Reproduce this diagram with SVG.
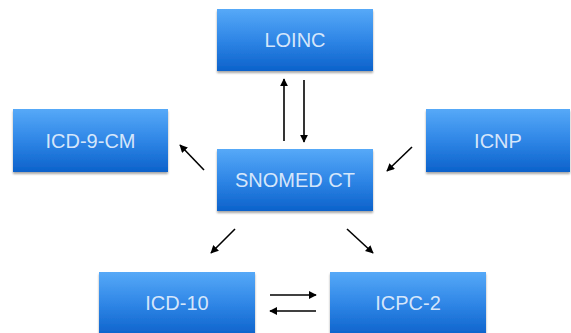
<svg xmlns="http://www.w3.org/2000/svg" width="571" height="333" viewBox="0 0 571 333">
<defs>
<linearGradient id="g" x1="0" y1="0" x2="0" y2="1">
<stop offset="0" stop-color="#56a9f8"/>
<stop offset="0.5" stop-color="#2f86e6"/>
<stop offset="1" stop-color="#0c62cb"/>
</linearGradient>
<filter id="sh" x="-10%" y="-10%" width="120%" height="130%">
<feGaussianBlur in="SourceAlpha" stdDeviation="1.2"/>
<feOffset dy="1.5" result="b"/>
<feComponentTransfer><feFuncA type="linear" slope="0.35"/></feComponentTransfer>
<feMerge><feMergeNode/><feMergeNode in="SourceGraphic"/></feMerge>
</filter>
<marker id="ah" viewBox="0 0 10 10" refX="9" refY="5" markerWidth="5" markerHeight="5" orient="auto" markerUnits="strokeWidth">
<path d="M0,0 L10,5 L0,10 z" fill="#000"/>
</marker>
</defs>
<style>
.box{fill:url(#g);filter:url(#sh)}
.lbl{font-family:"Liberation Sans",Arial,sans-serif;font-size:20px;fill:#e6f1fd;fill-opacity:0.92;text-anchor:middle;dominant-baseline:central}
.c{stroke:#000;stroke-width:1.6;fill:none;marker-end:url(#ah)}
</style>
<rect width="571" height="333" fill="#fff"/>
<g id="loinc"><rect class="box" x="217" y="9" width="156" height="62"/><text class="lbl" x="295" y="40">LOINC</text></g>
<g id="icd9cm"><rect class="box" x="13" y="109" width="155" height="63"/><text class="lbl" x="90.5" y="140.5">ICD-9-CM</text></g>
<g id="snomed"><rect class="box" x="217" y="149" width="156" height="62"/><text class="lbl" x="295" y="180">SNOMED CT</text></g>
<g id="icnp"><rect class="box" x="426" y="109" width="144" height="63"/><text class="lbl" x="498" y="140.5">ICNP</text></g>
<g id="icd10"><rect class="box" x="99" y="272" width="156" height="64"/><text class="lbl" x="177" y="303">ICD-10</text></g>
<g id="icpc2"><rect class="box" x="330" y="272" width="156" height="64"/><text class="lbl" x="408" y="303">ICPC-2</text></g>
<g id="connectors">
<line class="c" x1="284" y1="141" x2="284" y2="79"/>
<line class="c" x1="304" y1="80" x2="304" y2="142"/>
<line class="c" x1="204" y1="170" x2="180" y2="145"/>
<line class="c" x1="412" y1="147" x2="387" y2="171"/>
<line class="c" x1="235" y1="229" x2="211" y2="253"/>
<line class="c" x1="347" y1="229" x2="373" y2="253"/>
<line class="c" x1="270" y1="295" x2="316" y2="295"/>
<line class="c" x1="316" y1="311" x2="270" y2="311"/>
</g>
</svg>
